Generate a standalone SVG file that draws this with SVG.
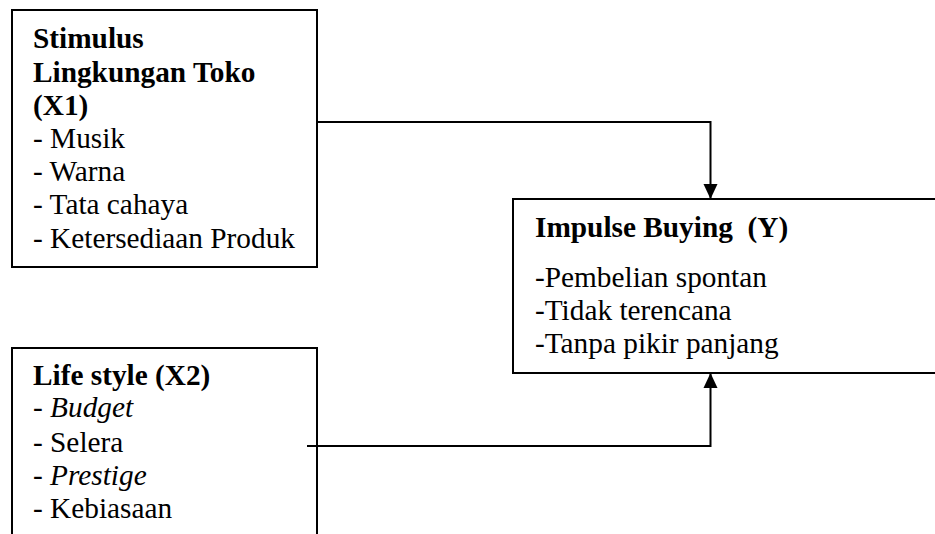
<svg xmlns="http://www.w3.org/2000/svg" width="935" height="534" viewBox="0 0 935 534">
<style>
.box{fill:#fff;stroke:#000;stroke-width:2}
.t{font-family:"Liberation Serif","Times New Roman",serif;font-size:29.3px;fill:#000}
.b{font-weight:bold}
.i{font-style:italic}
.c{fill:none;stroke:#000;stroke-width:2}
</style>
<defs>
<marker id="ah" markerWidth="15" markerHeight="16" refX="15" refY="7.5" orient="auto" markerUnits="userSpaceOnUse" viewBox="0 0 16 15">
<path d="M0,0 L16,7.5 L0,15 Z" fill="#000"/>
</marker>
</defs>
<rect width="935" height="534" fill="#fff"/>
<g id="x1">
<rect class="box" x="12" y="10" width="305" height="257"/>
<text class="t b" x="33" y="48">Stimulus</text>
<text class="t b" x="33" y="82">Lingkungan Toko</text>
<text class="t b" x="33" y="115">(X1)</text>
<text class="t" x="33" y="148">- Musik</text>
<text class="t" x="33" y="181">- Warna</text>
<text class="t" x="33" y="214">- Tata cahaya</text>
<text class="t" x="33" y="248">- Ketersediaan Produk</text>
</g>
<g id="x2">
<path class="c" d="M12,536 V348 H317 V536"/>
<text class="t b" x="33" y="385">Life style (X2)</text>
<text class="t" x="33" y="417">- <tspan class="i">Budget</tspan></text>
<text class="t" x="33" y="452">- Selera</text>
<text class="t" x="33" y="485">- <tspan class="i">Prestige</tspan></text>
<text class="t" x="33" y="518">- Kebiasaan</text>
</g>
<g id="y">
<path class="c" d="M937,199 H513 V373 H937"/>
<text class="t b" x="535" y="237" xml:space="preserve">Impulse Buying  (Y)</text>
<text class="t" x="535" y="287">-Pembelian spontan</text>
<text class="t" x="535" y="320">-Tidak terencana</text>
<text class="t" x="535" y="353">-Tanpa pikir panjang</text>
</g>
<g id="connectors">
<path class="c" d="M317,122 H710.5 V198" marker-end="url(#ah)"/>
<path class="c" d="M307,446 H710.5 V374" marker-end="url(#ah)"/>
</g>
</svg>
